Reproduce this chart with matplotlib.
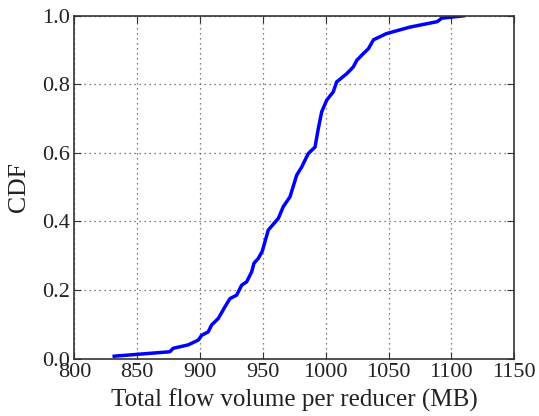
import matplotlib
matplotlib.use("Agg")
import matplotlib.pyplot as plt
import numpy as np

volume_mb = [831.7, 876, 878.6, 890.6, 898.6, 901.3, 906.5, 909.2, 914.5, 919.8,
             923.8, 929.1, 933.1, 937.1, 941.1, 942.9, 946.3, 949.5, 954.3, 962.3,
             966.2, 971.6, 976.9, 980.9, 986.1, 991.5, 994.1, 996.8, 1000.8, 1006,
             1008.7, 1016.7, 1022, 1024.7, 1030, 1034, 1038, 1048.3, 1067, 1088.8,
             1092.3, 1109.6]
cdf = [0.007, 0.02, 0.03, 0.04, 0.054, 0.068, 0.078, 0.098, 0.117, 0.151,
       0.175, 0.185, 0.214, 0.224, 0.253, 0.278, 0.292, 0.313, 0.375, 0.409,
       0.443, 0.472, 0.535, 0.559, 0.598, 0.617, 0.671, 0.72, 0.754, 0.778,
       0.807, 0.831, 0.851, 0.87, 0.89, 0.904, 0.93, 0.948, 0.967, 0.983,
       0.993, 1.0]

x_ticks = [800, 850, 900, 950, 1000, 1050, 1100, 1150]
y_ticks = [0.0, 0.2, 0.4, 0.6, 0.8, 1.0]

plt.rcParams['font.family'] = ['Liberation Serif', 'DejaVu Serif']

fig = plt.figure(figsize=(5.39, 4.16), dpi=100)
ax = fig.add_axes([0.138, 0.138, 0.816, 0.824])
ax.plot(volume_mb, cdf, color='#0000ff', lw=2.5, solid_joinstyle='round')
ax.set_xlim(800, 1150)
ax.set_ylim(0, 1.0)
ax.set_xticks(x_ticks)
ax.set_yticks(y_ticks)
ax.set_yticklabels([f"{v:.1f}" for v in y_ticks])
ax.grid(True, color='#555555', linestyle=(0, (1, 3)), linewidth=0.9)
ax.tick_params(direction='in', top=True, right=True, length=5, labelsize=16, pad=3,
               color='#333333', labelcolor='#222222')
for s in ax.spines.values():
    s.set_linewidth(1.2)
    s.set_color('#333333')
ax.set_xlabel('Total flow volume per reducer (MB)', fontsize=18, color='#222222', labelpad=5)
ax.set_ylabel('CDF', fontsize=18.5, color='#222222')
ax.yaxis.set_label_coords(-0.100, 0.5)
fig.savefig('out.png', dpi=100)
